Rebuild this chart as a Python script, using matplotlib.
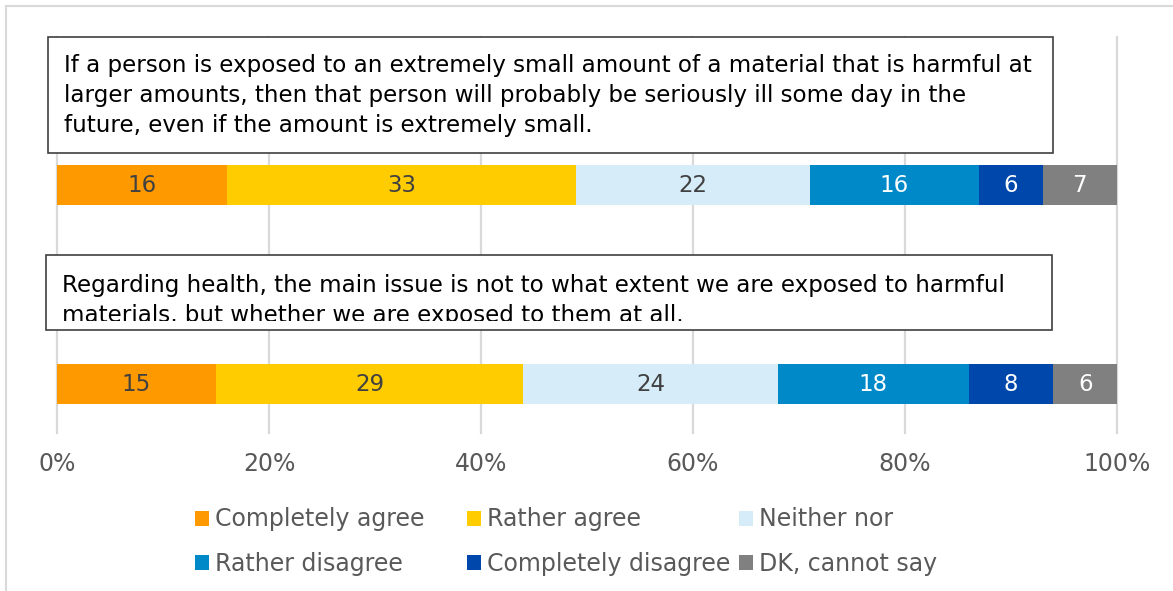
import matplotlib.pyplot as plt
from matplotlib.patches import Rectangle
from matplotlib.transforms import Bbox

categories = ['Completely agree', 'Rather agree', 'Neither nor',
              'Rather disagree', 'Completely disagree', 'DK, cannot say']
colors = ['#FF9900', '#FFCC00', '#D6ECF8', '#0089C8', '#0047AB', '#808080']
label_colors = ['#404040', '#404040', '#404040', 'white', 'white', 'white']

statements = [
    'If a person is exposed to an extremely small amount of a material that is harmful at\n'
    'larger amounts, then that person will probably be seriously ill some day in the\n'
    'future, even if the amount is extremely small.',
    'Regarding health, the main issue is not to what extent we are exposed to harmful\n'
    'materials, but whether we are exposed to them at all.',
]
values = [
    [16, 33, 22, 16, 6, 7],
    [15, 29, 24, 18, 8, 6],
]
ticks = [0, 20, 40, 60, 80, 100]
tick_labels = ['0%', '20%', '40%', '60%', '80%', '100%']

W, H = 1173, 591
fig = plt.figure(figsize=(W / 100, H / 100), dpi=100)

def fx(px):
    return px / W

def fy(py):
    return 1 - py / H

# outer chart frame
fig.patches.append(Rectangle((fx(6), fy(600)), fx(1200) - fx(6), fy(6) - fy(600),
                             transform=fig.transFigure, fill=False,
                             edgecolor='#D9D9D9', linewidth=1.5, zorder=0))

ax = fig.add_axes([fx(57), fy(433), fx(1117) - fx(57), fy(37) - fy(433)])
ax.set_xlim(0, 100)
ax.set_ylim(1.246, -0.744)

bar_h = 0.201
for row, vals in enumerate(values):
    left = 0
    for i, v in enumerate(vals):
        ax.barh(row, v, left=left, height=bar_h, color=colors[i], zorder=2,
                label=categories[i] if row == 0 else None)
        ax.text(left + v / 2, row, str(v), ha='center', va='center',
                fontsize=16.5, color=label_colors[i], zorder=3)
        left += v

ax.set_xticks(ticks)
ax.set_xticklabels(tick_labels, fontsize=17, color='#595959')
ax.set_yticks([])
ax.tick_params(axis='x', length=0, pad=14)
ax.grid(axis='x', color='#D9D9D9', linewidth=1.6, zorder=0)
for gl in ax.get_xgridlines():
    gl.set_clip_on(False)
ax.set_axisbelow(True)
for s in ax.spines.values():
    s.set_visible(False)

# statement boxes: (x0, y0, x1, y1, text offset, clip bottom) in pixels
boxes = [(48, 37, 1053, 153, 17, 153), (46, 255, 1052, 330, 19, 321)]
for (x0, y0, x1, y1, off, clip), txt in zip(boxes, statements):
    fig.patches.append(Rectangle((fx(x0), fy(y1)), fx(x1) - fx(x0), fy(y0) - fy(y1),
                                 transform=fig.transFigure, facecolor='white',
                                 edgecolor='#404040', linewidth=1.2, zorder=5))
    t = fig.text(fx(x0 + 16), fy(y0 + off), txt, ha='left', va='top',
                 fontsize=16.6, color='black', linespacing=1.38, zorder=6)
    t.set_clip_box(Bbox([[x0, H - clip], [x1, H - y0]]))

# legend: three columns at fixed positions, filled row by row
handles, labels = ax.get_legend_handles_labels()
col_x = [195, 739, 467]
for c, x in zip([0, 2, 1], col_x):
    fig.legend([handles[c], handles[c + 3]], [labels[c], labels[c + 3]],
               loc='center left', bbox_to_anchor=(fx(x), fy(541.5)),
               borderpad=0, borderaxespad=0, frameon=False, fontsize=17,
               labelcolor='#595959', handlelength=0.6, handleheight=0.6,
               handletextpad=0.25, labelspacing=0.85)

fig.savefig('out.png', dpi=100)
